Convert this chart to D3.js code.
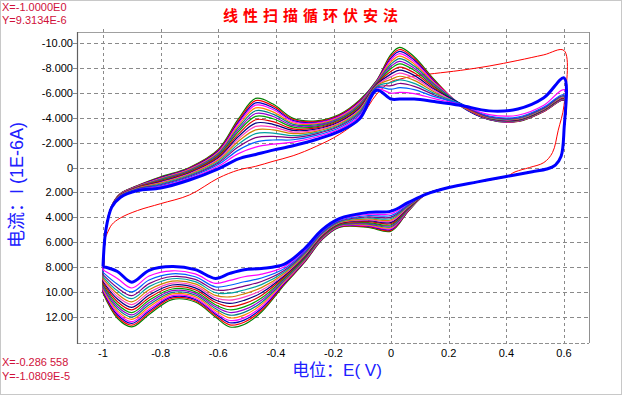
<!DOCTYPE html>
<html>
<head>
<meta charset="utf-8">
<script src="https://cdn.jsdelivr.net/npm/d3@7"></script>
<style>
  body { margin: 0; background: #fff; }
  svg text { font-family: "Liberation Sans", Arial, "Noto Sans CJK SC", sans-serif; }
</style>
</head>
<body>
<svg id="chart" width="623" height="396"></svg>
<script>
// potentials of the forward sweep (upper branch), V
const upperE = [-0.99, -0.97, -0.94, -0.88, -0.8, -0.7, -0.6, -0.53, -0.47, -0.41, -0.34, -0.26,
                -0.18, -0.11, -0.05, 0, 0.03, 0.08, 0.15, 0.24, 0.34, 0.44, 0.53, 0.6];

// forward sweep currents (1E-6 A), one row per potential, one column per cycle (outer green cycle first)
const upperFan = [
  [5.0,5.0,5.0,5.0,5.0,5.0,5.0,5.0,5.0,5.0,5.0,5.0,5.0,5.0,5.0,5.0],
  [3.1,3.1,3.11,3.11,3.12,3.12,3.13,3.13,3.14,3.14,3.15,3.16,3.16,3.17,3.18,3.19],
  [2.1,2.11,2.12,2.14,2.15,2.17,2.18,2.2,2.21,2.23,2.25,2.27,2.29,2.31,2.33,2.36],
  [1.45,1.47,1.48,1.5,1.52,1.54,1.56,1.58,1.6,1.63,1.65,1.67,1.7,1.73,1.76,1.8],
  [0.75,0.79,0.82,0.86,0.9,0.95,0.99,1.04,1.09,1.15,1.2,1.25,1.32,1.38,1.45,1.53],
  [0.0,0.04,0.08,0.12,0.17,0.22,0.27,0.32,0.38,0.44,0.5,0.56,0.63,0.7,0.78,0.87],
  [-1.45,-1.39,-1.33,-1.26,-1.19,-1.11,-1.03,-0.95,-0.86,-0.77,-0.68,-0.58,-0.47,-0.37,-0.24,-0.1],
  [-3.9,-3.77,-3.64,-3.52,-3.36,-3.2,-3.04,-2.88,-2.68,-2.49,-2.3,-2.11,-1.88,-1.66,-1.4,-1.12],
  [-5.55,-5.37,-5.19,-5.01,-4.79,-4.56,-4.34,-4.11,-3.84,-3.57,-3.3,-3.03,-2.72,-2.4,-2.04,-1.64],
  [-5.1,-4.95,-4.8,-4.66,-4.47,-4.29,-4.1,-3.92,-3.69,-3.47,-3.25,-3.03,-2.77,-2.51,-2.21,-1.88],
  [-3.95,-3.86,-3.77,-3.69,-3.58,-3.47,-3.36,-3.25,-3.11,-2.98,-2.85,-2.72,-2.56,-2.41,-2.23,-2.04],
  [-3.75,-3.69,-3.63,-3.57,-3.5,-3.42,-3.35,-3.27,-3.18,-3.09,-3.0,-2.91,-2.81,-2.7,-2.58,-2.45],
  [-4.25,-4.2,-4.14,-4.09,-4.02,-3.95,-3.89,-3.82,-3.74,-3.66,-3.58,-3.49,-3.4,-3.31,-3.2,-3.08],
  [-5.4,-5.34,-5.28,-5.22,-5.15,-5.07,-5.0,-4.92,-4.83,-4.74,-4.65,-4.56,-4.46,-4.35,-4.23,-4.1],
  [-7.0,-6.97,-6.94,-6.9,-6.86,-6.82,-6.78,-6.74,-6.7,-6.65,-6.6,-6.55,-6.5,-6.44,-6.38,-6.3],
  [-9.1,-8.96,-8.81,-8.67,-8.49,-8.31,-8.13,-7.95,-7.73,-7.52,-7.3,-7.08,-6.83,-6.58,-6.29,-5.97],
  [-9.65,-9.48,-9.32,-9.15,-8.94,-8.74,-8.53,-8.32,-8.07,-7.82,-7.58,-7.33,-7.04,-6.75,-6.41,-6.04],
  [-8.9,-8.76,-8.63,-8.49,-8.32,-8.15,-7.98,-7.81,-7.61,-7.4,-7.2,-7.0,-6.76,-6.52,-6.25,-5.94],
  [-7.05,-6.98,-6.91,-6.84,-6.75,-6.67,-6.58,-6.49,-6.39,-6.28,-6.18,-6.07,-5.95,-5.83,-5.69,-5.53],
  [-5.0,-5.05,-4.95,-5.1,-5.0,-5.12,-4.98,-5.08,-5.02,-5.15,-5.05,-4.95,-5.1,-5.0,-5.12,-5.05],
  [-3.85,-3.86,-3.87,-3.88,-3.9,-3.91,-3.93,-3.94,-3.96,-3.98,-4.0,-4.02,-4.05,-4.08,-4.14,-4.25],
  [-3.7,-3.71,-3.72,-3.73,-3.75,-3.77,-3.79,-3.81,-3.83,-3.85,-3.88,-3.91,-3.94,-3.98,-4.05,-4.2],
  [-4.5,-4.51,-4.53,-4.54,-4.56,-4.58,-4.6,-4.62,-4.64,-4.66,-4.69,-4.72,-4.75,-4.79,-4.86,-5.0],
  [-5.4,-5.42,-5.44,-5.46,-5.48,-5.5,-5.52,-5.55,-5.58,-5.61,-5.64,-5.68,-5.72,-5.77,-5.85,-6.25]
];
// last cycle (thick blue) and first cycle (red), forward sweep
const upperLast = [5.0, 3.2, 2.4, 1.85, 1.65, 1.0, 0.1, -0.7, -1.05, -1.4, -1.75, -2.25,
                   -2.9, -3.9, -6.2, -5.5, -5.5, -5.5, -5.3, -5.0, -4.55, -4.7, -5.6, -7.2];
const upperFirst = [5.55, 4.6, 4.05, 3.45, 2.9, 2.2, 0.85, 0.2, -0.1, -0.5, -0.95, -1.7,
                    -2.65, -3.9, -5.9, -6.9, -7.1, -7.35, -7.55, -7.8, -8.15, -8.6, -9.05, -9.4];

// first cycle turning back at 0.6 V
const firstReturnE = [0.6, 0.58, 0.56, 0.53, 0.48, 0.43, 0.4, 0.3];
const firstReturnI = [-5.0, -3.0, -1.2, -0.4, 0.0, 0.35, 0.72, 1.15];

// reverse sweep, part shared by all cycles
const lowerCommonE = [0.6, 0.59, 0.57, 0.54, 0.49, 0.4, 0.3, 0.2, 0.12];
const lowerCommonI = [-3.0, -0.9, -0.2, 0.12, 0.33, 0.72, 1.15, 1.6, 2.15];

// reverse sweep, part that differs per cycle
const lowerE = [0.06, 0, -0.08, -0.18, -0.24, -0.3, -0.37, -0.45, -0.51, -0.56, -0.61, -0.68,
                -0.76, -0.84, -0.9, -0.95, -1.0];
const lowerFan = [
  [3.5,3.47,3.44,3.42,3.38,3.35,3.31,3.28,3.23,3.19,3.15,3.11,3.06,3.01,2.95,2.89],
  [5.1,5.04,4.97,4.91,4.83,4.75,4.67,4.59,4.49,4.4,4.3,4.2,4.09,3.98,3.85,3.71],
  [4.8,4.75,4.7,4.66,4.6,4.54,4.48,4.42,4.34,4.27,4.2,4.13,4.04,3.96,3.86,3.76],
  [4.8,4.77,4.74,4.72,4.68,4.65,4.61,4.58,4.53,4.49,4.45,4.41,4.36,4.31,4.25,4.19],
  [5.8,5.77,5.74,5.7,5.66,5.62,5.58,5.54,5.5,5.45,5.4,5.35,5.3,5.24,5.18,5.1],
  [7.6,7.56,7.51,7.47,7.41,7.36,7.3,7.25,7.18,7.12,7.05,6.98,6.91,6.83,6.74,6.64],
  [9.4,9.33,9.27,9.2,9.12,9.04,8.95,8.87,8.77,8.67,8.58,8.48,8.36,8.25,8.11,7.96],
  [11.6,11.46,11.32,11.18,11.0,10.83,10.66,10.48,10.27,10.06,9.85,9.64,9.4,9.15,8.87,8.56],
  [12.6,12.42,12.25,12.07,11.85,11.63,11.41,11.19,10.93,10.66,10.4,10.14,9.83,9.52,9.17,8.77],
  [12.8,12.63,12.46,12.28,12.07,11.85,11.64,11.42,11.17,10.91,10.65,10.39,10.09,9.79,9.45,9.06],
  [12.0,11.88,11.75,11.63,11.47,11.32,11.16,11.01,10.82,10.64,10.45,10.26,10.05,9.83,9.58,9.3],
  [10.8,10.7,10.59,10.49,10.36,10.23,10.1,9.97,9.81,9.66,9.5,9.34,9.16,8.98,8.77,8.54],
  [10.6,10.49,10.39,10.28,10.15,10.02,9.88,9.75,9.59,9.43,9.28,9.12,8.93,8.75,8.53,8.29],
  [11.8,11.66,11.52,11.37,11.2,11.02,10.84,10.66,10.45,10.24,10.03,9.81,9.56,9.32,9.03,8.71],
  [12.8,12.66,12.51,12.37,12.19,12.01,11.83,11.65,11.43,11.22,11.0,10.78,10.53,10.28,9.99,9.67],
  [12.1,11.96,11.82,11.68,11.51,11.33,11.16,10.98,10.77,10.56,10.35,10.14,9.9,9.65,9.37,8.9],
  [10.1,10.01,9.93,9.84,9.73,9.63,9.52,9.41,9.28,9.15,9.03,8.9,8.75,8.6,8.42,8.23]
];
const lowerLast = [2.8, 3.5, 3.6, 4.1, 5.0, 6.5, 7.75, 8.1, 8.2, 8.5, 8.9, 8.2,
                   7.95, 8.25, 9.2, 8.35, 7.95];

const fanColors = ["#008000", "#ff0000", "#0000c0", "#ff00ff", "#ff8000", "#008080", "#9400d3", "#00a000",
                   "#e00000", "#000080", "#ff40c0", "#d08000", "#00a0a0", "#800080", "#0060ff", "#ff00ff"];

const xTicks = [-1, -0.8, -0.6, -0.4, -0.2, 0, 0.2, 0.4, 0.6];
const xTickLabels = ["-1", "-0.8", "-0.6", "-0.4", "-0.2", "0", "0.2", "0.4", "0.6"];
const yTicks = [-10, -8, -6, -4, -2, 0, 2, 4, 6, 8, 10, 12];
const yTickLabels = ["-10.00", "-8.000", "-6.000", "-4.000", "-2.000", "0", "2.000", "4.000",
                     "6.000", "8.000", "10.00", "12.00"];

const svg = d3.select("#chart");
const frame = { left: 77, top: 32, right: 589, bottom: 343 };

const x = d3.scaleLinear().domain([-1, 0.6]).range([103, 564]);
// current axis is reversed: negative (anodic) values on top
const y = d3.scaleLinear().domain([-10, 12]).range([43, 317]);

// outer border of the window
svg.append("rect")
    .attr("x", 0.5).attr("y", 0.5).attr("width", 621).attr("height", 394)
    .attr("fill", "none").attr("stroke", "#c8c8c8");

// grid
svg.append("g").selectAll("line").data(xTicks).enter().append("line")
    .attr("x1", d => Math.round(x(d)) + 0.5).attr("x2", d => Math.round(x(d)) + 0.5)
    .attr("y1", frame.top - 3).attr("y2", frame.bottom + 3)
    .attr("stroke", "#8a8a8a").attr("stroke-dasharray", "3,3");
svg.append("g").selectAll("line").data(yTicks).enter().append("line")
    .attr("x1", frame.left - 4).attr("x2", frame.right)
    .attr("y1", d => Math.round(y(d)) + 0.5).attr("y2", d => Math.round(y(d)) + 0.5)
    .attr("stroke", "#8a8a8a").attr("stroke-dasharray", "4,3");

// frame
svg.append("line").attr("x1", frame.left).attr("x2", frame.right)
    .attr("y1", frame.top + 0.5).attr("y2", frame.top + 0.5).attr("stroke", "#a0a0a0");
svg.append("line").attr("x1", frame.right + 0.5).attr("x2", frame.right + 0.5)
    .attr("y1", frame.top).attr("y2", frame.bottom).attr("stroke", "#909090");
svg.append("line").attr("x1", frame.left).attr("x2", frame.right)
    .attr("y1", frame.bottom + 0.5).attr("y2", frame.bottom + 0.5)
    .attr("stroke", "#909090").attr("stroke-dasharray", "4,2");
svg.append("line").attr("x1", frame.left + 0.5).attr("x2", frame.left + 0.5)
    .attr("y1", frame.top).attr("y2", frame.bottom + 1).attr("stroke", "#606060").attr("stroke-width", 1.2);

// tick labels
svg.append("g").selectAll("text").data(xTicks).enter().append("text")
    .attr("x", d => x(d)).attr("y", 357)
    .attr("text-anchor", "middle").attr("font-size", 11).attr("fill", "#000")
    .text((d, i) => xTickLabels[i]);
svg.append("g").selectAll("text").data(yTicks).enter().append("text")
    .attr("x", 73).attr("y", d => y(d) + 4)
    .attr("text-anchor", "end").attr("font-size", 11).attr("fill", "#000")
    .text((d, i) => yTickLabels[i]);

// curves
svg.append("clipPath").attr("id", "plotClip").append("rect")
    .attr("x", frame.left + 1).attr("y", frame.top + 1)
    .attr("width", frame.right - frame.left - 1).attr("height", frame.bottom - frame.top - 1);
const plot = svg.append("g").attr("clip-path", "url(#plotClip)");

const line = d3.line()
    .x(d => x(d[0]))
    .y(d => y(d[1]))
    .curve(d3.curveCatmullRom.alpha(0.5));

const common = lowerCommonE.map((e, i) => [e, lowerCommonI[i]]);

// one closed loop: turn at -1 V, forward sweep, shared return, cycle's own return
function cyclePoints(up, low) {
    const pts = [[-1, low[low.length - 1]]];
    upperE.forEach((e, i) => pts.push([e, up[i]]));
    common.forEach(p => pts.push(p));
    lowerE.forEach((e, i) => pts.push([e, low[i]]));
    return pts;
}

// first cycle
const firstPts = upperE.map((e, i) => [e, upperFirst[i]])
    .concat(firstReturnE.map((e, i) => [e, firstReturnI[i]]));
plot.append("path").attr("d", line(firstPts))
    .attr("fill", "none").attr("stroke", "#ff0000").attr("stroke-width", 1);

// middle cycles
fanColors.forEach((c, k) => {
    const pts = cyclePoints(upperFan.map(r => r[k]), lowerFan.map(r => r[k]));
    plot.append("path").attr("d", line(pts))
        .attr("fill", "none").attr("stroke", c).attr("stroke-width", 1.2);
});

// last cycle
plot.append("path").attr("d", line(cyclePoints(upperLast, lowerLast)))
    .attr("fill", "none").attr("stroke", "#0000ff").attr("stroke-width", 3);

// titles
svg.append("text").attr("x", 313).attr("y", 21)
    .attr("text-anchor", "middle").attr("font-size", 15).attr("font-weight", "bold")
    .attr("letter-spacing", 5).attr("fill", "#ff0000")
    .style("font-family", "'Noto Sans CJK SC', sans-serif")
    .text("线性扫描循环伏安法");
svg.append("text").attr("x", 337).attr("y", 376)
    .attr("text-anchor", "middle").attr("font-size", 17).attr("fill", "#2020ff")
    .text("电位：E( V)");
svg.append("text").attr("transform", "translate(23,185) rotate(-90)")
    .attr("text-anchor", "middle").attr("font-size", 18).attr("fill", "#2020ff")
    .text("电流：I (1E-6A)");

// cursor readouts
const readouts = [["X=-1.0000E0", 11], ["Y=9.3134E-6", 24], ["X=-0.286 558", 366], ["Y=-1.0809E-5", 380]];
svg.append("g").selectAll("text").data(readouts).enter().append("text")
    .attr("x", 2).attr("y", d => d[1])
    .attr("font-size", 11).attr("fill", "#d0103a")
    .text(d => d[0]);
</script>
</body>
</html>
